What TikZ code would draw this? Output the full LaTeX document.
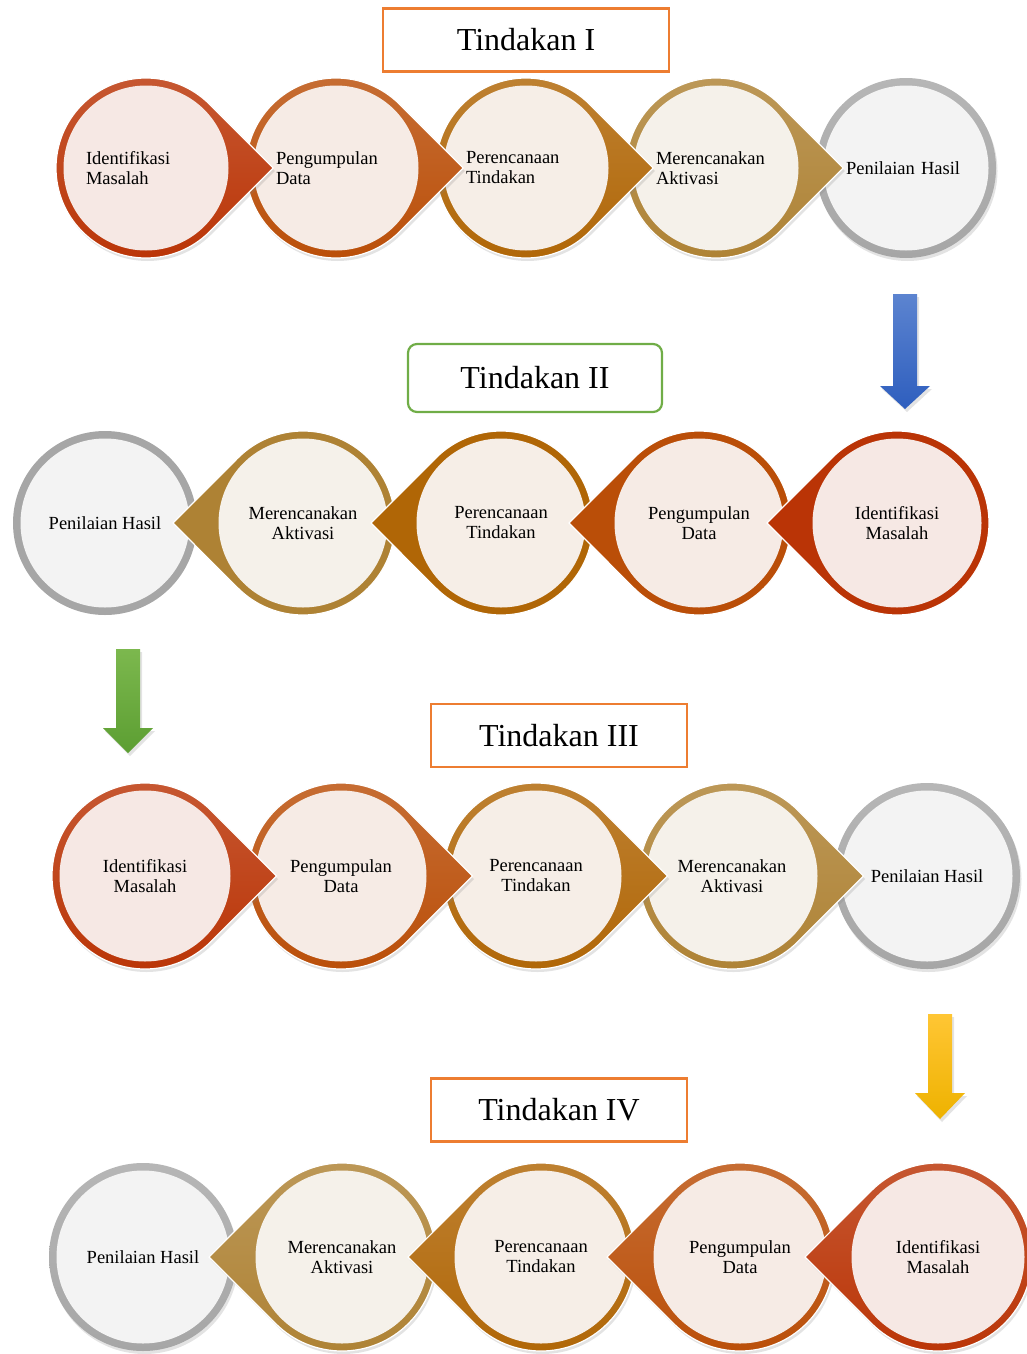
\documentclass[tikz,border=0pt]{standalone}
\usepackage{fontspec}
\setmainfont{Liberation Serif}
\usetikzlibrary{calc,shadows}

\definecolor{merah}{RGB}{186,52,6}
\definecolor{jingga}{RGB}{186,78,8}
\definecolor{coklat}{RGB}{176,102,6}
\definecolor{emas}{RGB}{174,130,52}
\definecolor{abu}{RGB}{166,166,166}
\definecolor{isimerah}{RGB}{246,232,228}
\definecolor{isijingga}{RGB}{246,235,229}
\definecolor{isicoklat}{RGB}{246,238,231}
\definecolor{isiemas}{RGB}{245,241,234}
\definecolor{isiabu}{RGB}{243,243,243}
\definecolor{oranye}{RGB}{237,125,49}
\definecolor{hijau}{RGB}{112,173,71}
\definecolor{biruatas}{RGB}{92,132,208}
\definecolor{birubawah}{RGB}{46,94,190}
\definecolor{hijauatas}{RGB}{124,184,78}
\definecolor{hijaubawah}{RGB}{92,158,50}
\definecolor{kuningatas}{RGB}{255,198,52}
\definecolor{kuningbawah}{RGB}{238,178,0}

\tikzset{
  gradasi/.style={top color=#1!82!white, bottom color=#1,
    drop shadow={opacity=0.22, shadow xshift=1.5pt, shadow yshift=-3pt}},
  datar/.style={fill=#1},
  lingkaran/.style={circle, inner sep=0pt, align=center, font=\fontsize{18.5}{20}\selectfont},
  judul/.style={draw=oranye, fill=white, line width=2.2pt, minimum height=63pt,
    inner sep=0pt, font=\fontsize{32}{36}\selectfont},
}

% lingkaran berujung lancip: gaya, warna, nama, pusat, jari-jari, arah, teks
\newcommand{\tetes}[7]{%
  \path[#1=#2, draw=white, line width=1.2pt]
    ($(#4)+(#6:1.414*#5)$) -- ($(#4)+(#6+45:#5)$)
    arc[start angle=#6+45, end angle=#6+315, radius=#5] -- cycle;
  \node[lingkaran, fill=isi#2, minimum size=2*#5-15] (#3) at (#4) {#7};
}
% lingkaran polos: gaya, warna, nama, pusat, jari-jari, teks
\newcommand{\bulat}[6]{%
  \path[#1=#2] (#4) circle[radius=#5];
  \node[lingkaran, fill=isi#2, minimum size=2*#5-15] (#3) at (#4) {#6};
}
% panah ke bawah: x, atas, leher, ujung, warna atas, warna bawah
\newcommand{\panah}[6]{%
  \path[top color=#5, bottom color=#6,
    drop shadow={opacity=0.22, shadow xshift=2pt, shadow yshift=-3pt}]
    (#1-12,#2) -- (#1+12,#2) -- (#1+12,#3) -- (#1+25,#3) -- (#1,#4)
    -- (#1-25,#3) -- (#1-12,#3) -- cycle;
}

\begin{document}
\begin{tikzpicture}[x=1pt, y=-1pt]
  \useasboundingbox (0,0) rectangle (1027,1354);

  % Tindakan I
  \node[judul, minimum width=286pt] (t1) at (526,40) {Tindakan I};
  \begin{scope}[lingkaran/.append style={align=left, text width=120pt}]
    \bulat{gradasi}{abu}{a5}{906,168}{90}{Penilaian Hasil}
    \tetes{gradasi}{emas}{a4}{716,168}{90}{0}{Merencanakan\\Aktivasi}
    \tetes{gradasi}{coklat}{a3}{526,168}{90}{0}{Perencanaan\\Tindakan}
    \tetes{gradasi}{jingga}{a2}{336,168}{90}{0}{Pengumpulan\\Data}
    \tetes{gradasi}{merah}{a1}{146,168}{90}{0}{Identifikasi\\Masalah}
  \end{scope}
  \panah{905}{294}{386}{409}{biruatas}{birubawah}

  % Tindakan II
  \node[judul, draw=hijau, rounded corners=9pt, minimum width=254pt, minimum height=68pt] (t2) at (535,378) {Tindakan II};
  \bulat{datar}{abu}{b5}{105,523}{92}{Penilaian Hasil}
  \tetes{datar}{emas}{b4}{303,523}{92}{180}{Merencanakan\\Aktivasi}
  \tetes{datar}{coklat}{b3}{501,523}{92}{180}{Perencanaan\\Tindakan}
  \tetes{datar}{jingga}{b2}{699,523}{92}{180}{Pengumpulan\\Data}
  \tetes{datar}{merah}{b1}{897,523}{92}{180}{Identifikasi\\Masalah}
  \panah{128}{649}{728}{753}{hijauatas}{hijaubawah}

  % Tindakan III
  \node[judul, minimum width=256pt] (t3) at (559,735.5) {Tindakan III};
  \bulat{gradasi}{abu}{c5}{927,876}{93}{Penilaian Hasil}
  \tetes{gradasi}{emas}{c4}{732,876}{93}{0}{Merencanakan\\Aktivasi}
  \tetes{gradasi}{coklat}{c3}{536,876}{93}{0}{Perencanaan\\Tindakan}
  \tetes{gradasi}{jingga}{c2}{341,876}{93}{0}{Pengumpulan\\Data}
  \tetes{gradasi}{merah}{c1}{145,876}{93}{0}{Identifikasi\\Masalah}
  \panah{940}{1014}{1093}{1119}{kuningatas}{kuningbawah}

  % Tindakan IV
  \node[judul, minimum width=256pt] (t4) at (559,1110) {Tindakan IV};
  \bulat{gradasi}{abu}{d5}{143,1257}{94}{Penilaian Hasil}
  \tetes{gradasi}{emas}{d4}{342,1257}{94}{180}{Merencanakan\\Aktivasi}
  \tetes{gradasi}{coklat}{d3}{541,1257}{94}{180}{Perencanaan\\Tindakan}
  \tetes{gradasi}{jingga}{d2}{740,1257}{94}{180}{Pengumpulan\\Data}
  \tetes{gradasi}{merah}{d1}{938,1257}{94}{180}{Identifikasi\\Masalah}
\end{tikzpicture}
\end{document}
